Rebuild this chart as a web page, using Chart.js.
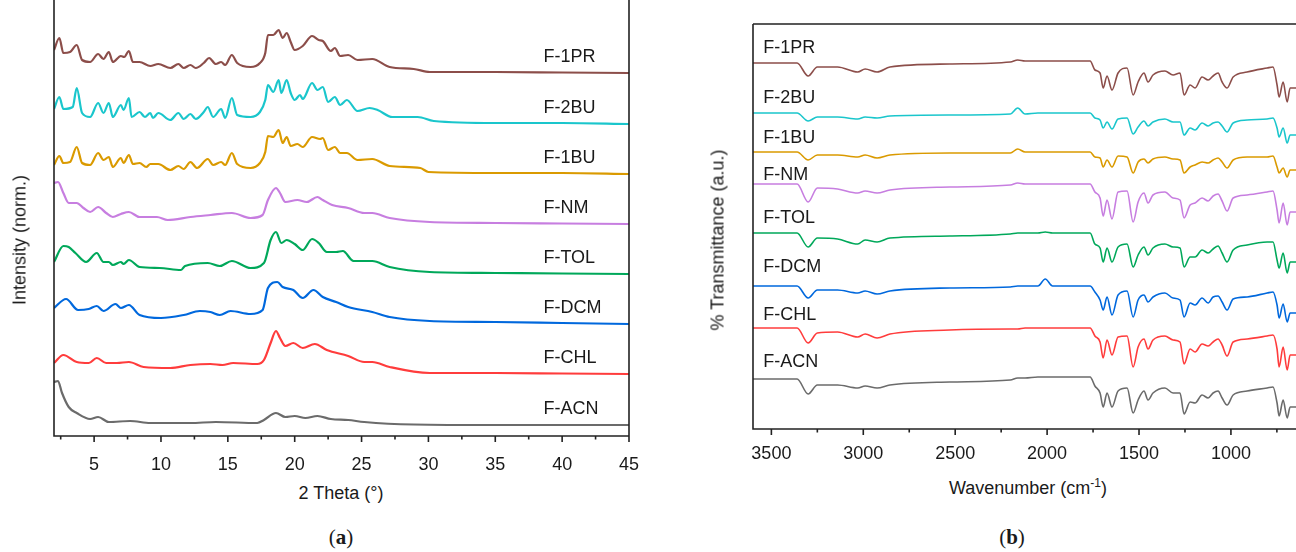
<!doctype html>
<html lang="en">
<head>
<meta charset="utf-8">
<title>XRD and FTIR of the F- samples</title>
<script src="https://cdn.jsdelivr.net/npm/chart.js"></script>
<style>
  body { margin: 0; background: #fff; font-family: "Liberation Sans", Arial, sans-serif; color: #1a1a1a; }
  #wrap { position: relative; width: 1296px; height: 552px; overflow: hidden; }
  canvas { position: absolute; top: 0; }
  .t { position: absolute; font-size: 18px; white-space: nowrap; transform: translate(-50%, -50%); }
  .t.rot { transform: translate(-50%, -50%) rotate(-90deg); }
  .t sup { font-size: 12px; }
  .cap { position: absolute; font-family: "Liberation Serif", serif; font-size: 21px; transform: translate(-50%, -50%); }
</style>
</head>
<body>
<div id="wrap">
  <canvas id="xrd" width="660" height="476" style="left:0"></canvas>
  <canvas id="ftir" width="596" height="470" style="left:700px"></canvas>

  <div class="t rot" style="left:20px;top:240px">Intensity (norm.)</div>
  <div class="t" style="left:341px;top:493px">2 Theta (°)</div>
  <div class="cap" style="left:341px;top:537px">(<b>a</b>)</div>

  <div class="t rot" style="left:718px;top:240px">% Transmittance (a.u.)</div>
  <div class="t" style="left:1028px;top:487px">Wavenumber (cm<sup>-1</sup>)</div>
  <div class="cap" style="left:1012px;top:537px">(<b>b</b>)</div>
</div>

<script>
// noms des echantillons, du haut vers le bas
const samples = ['F-1PR', 'F-2BU', 'F-1BU', 'F-NM', 'F-TOL', 'F-DCM', 'F-CHL', 'F-ACN'];
const colors = ['#8c4e4a', '#1ac6cc', '#da9a00', '#c77ee0', '#00a85a', '#0068dd', '#ff3c3c', '#6b6b6b'];

// ---- (a) XRD : [2 theta, intensite au-dessus de la ligne de base]
const xrd1PR = [[2.0,23],[2.4,35],[2.7,20],[3.2,21],[3.7,28],[4.1,13],[4.7,11],[5.3,19],[5.7,14],[6.1,21],[6.4,11],[7.0,17],[7.25,16],[7.6,22],[7.9,11],[8.4,11],[9.2,7],[9.8,9],[10.7,5],[11.3,9],[11.7,5],[12.2,8],[12.6,5],[13.2,10],[13.6,15],[14.1,9],[14.5,11],[14.8,8],[15.3,18],[15.7,10],[16.7,6],[17.4,10],[17.8,20],[18.0,38],[18.4,38],[18.8,43],[19.1,35],[19.4,40],[19.7,31],[20.0,23],[20.6,27],[21.3,37],[21.8,33],[22.1,32],[22.7,22],[23.0,25],[23.4,17],[24.0,18],[24.7,13],[25.8,14],[27.1,6],[28.9,4],[30.1,1],[35,1],[40,0.5],[45,0]];
const xrd2BU = [[2.0,15],[2.4,27],[2.7,15],[3.4,17],[3.7,36],[4.1,11],[4.7,7],[5.3,21],[5.7,11],[6.1,21],[6.4,7],[7.0,19],[7.2,14],[7.6,26],[7.8,7],[8.4,12],[8.8,7],[9.2,11],[9.4,6],[9.8,11],[10.7,4],[11.3,11],[11.7,5],[12.2,10],[12.6,5],[13.2,12],[13.5,17],[13.9,7],[14.5,15],[14.8,6],[15.3,26],[15.7,9],[16.7,7],[17.4,12],[17.8,24],[18.0,39],[18.4,32],[18.8,44],[19.0,31],[19.4,44],[19.7,31],[20.0,24],[20.4,29],[20.6,25],[21.3,41],[21.7,34],[22.1,37],[22.5,22],[23.0,27],[23.4,19],[23.9,24],[24.7,13],[25.6,16],[26.2,14],[27.3,7],[29.2,7],[30.4,3],[35,1],[40,1],[45,0]];
const xrd1BU = [[2.0,9],[2.4,18],[2.7,11],[3.2,12],[3.7,27],[4.1,11],[4.7,9],[5.3,21],[5.7,14],[6.1,17],[6.4,7],[7.0,16],[7.2,11],[7.6,19],[7.9,10],[8.4,11],[8.9,7],[9.2,10],[9.8,10],[10.7,4],[11.3,8],[11.7,5],[12.2,12],[12.7,6],[13.5,15],[13.9,9],[14.5,12],[14.8,9],[15.3,21],[15.7,10],[16.7,6],[17.4,11],[17.8,22],[18.0,38],[18.4,37],[18.8,44],[19.1,31],[19.4,37],[19.7,28],[20.2,30],[20.6,27],[21.3,37],[21.9,35],[22.1,36],[22.5,24],[23.0,27],[23.4,21],[23.9,21],[24.7,14],[25.8,15],[27.1,8],[29.4,6],[30.0,2],[35,1],[40,1],[45,0]];
const xrdNM = [[2.0,41],[2.3,42],[2.7,31],[3.1,21],[3.7,21],[4.2,16],[4.7,12],[5.3,17],[5.9,11],[6.4,7],[7.0,10],[7.6,12],[8.4,7],[9.7,7],[10.5,4],[12.2,7],[13.7,9],[15.3,11],[16.7,6],[17.6,9],[18.0,24],[18.6,36],[18.9,31],[19.3,22],[20.2,24],[20.9,22],[21.7,27],[22.1,24],[22.8,19],[24.0,16],[25.2,11],[25.8,11],[27.1,6],[30.1,2],[35,1],[40,0.5],[45,0]];
const xrdTOL = [[2.0,12],[2.7,28],[3.1,27],[3.6,21],[4.4,12],[5.2,21],[5.7,12],[6.1,12],[6.4,9],[7.0,12],[7.2,10],[7.6,14],[8.4,7],[9.9,6],[11.5,4],[11.8,8],[13.5,11],[14.4,8],[15.3,13],[16.7,6],[17.7,11],[18.2,34],[18.6,42],[19.0,31],[19.4,34],[20.0,30],[20.6,24],[21.3,35],[21.8,31],[22.4,22],[23.1,22],[23.6,23],[24.4,13],[25.8,13],[27.1,7],[30.1,2],[35,1],[40,0.5],[45,0]];
const xrdDCM = [[2.0,16],[2.9,25],[3.8,14],[4.6,15],[5.2,18],[5.7,13],[6.6,20],[7.0,16],[7.6,19],[8.4,9],[10.0,6],[11.7,9],[12.9,13],[13.7,12],[14.4,9],[15.2,13],[16.7,10],[17.6,14],[18.0,36],[18.7,42],[19.1,37],[19.9,34],[20.6,26],[21.4,34],[22.1,27],[23.1,22],[24.0,17],[25.8,12],[27.1,7],[30.1,3],[35,2],[40,1],[45,0]];
const xrdCHL = [[2.0,11],[2.7,19],[3.7,12],[4.6,11],[5.2,16],[5.9,11],[6.7,11],[7.6,12],[8.7,7],[10.7,6],[12.2,9],[13.7,10],[14.6,9],[15.4,11],[17.2,10],[17.7,14],[18.2,31],[18.6,43],[18.9,36],[19.3,28],[19.9,31],[20.6,26],[21.5,30],[22.4,24],[24.0,18],[25.2,12],[25.8,12],[27.1,7],[30.1,1],[35,1],[40,0.5],[45,0]];
const xrdACN = [[2.0,43],[2.3,44],[2.6,32],[3.1,18],[3.7,12],[4.7,6],[5.3,8],[6.1,3],[7.7,4],[9.2,2],[12.2,2],[14.1,3],[17.2,2],[17.7,5],[18.6,12],[19.3,8],[20.0,9],[20.8,7],[21.7,9],[22.7,6],[24.0,5],[25.2,3],[28.9,0.5],[35,0],[40,0],[45,0]];
const xrdSeries = [xrd1PR, xrd2BU, xrd1BU, xrdNM, xrdTOL, xrdDCM, xrdCHL, xrdACN];
const xrdOffsets = [363, 312, 262, 212, 162, 112, 62, 11];
const xrdTicks = [5, 10, 15, 20, 25, 30, 35, 40, 45];
const xrdMinorTicks = [2.5, 7.5, 12.5, 17.5, 22.5, 27.5, 32.5, 37.5, 42.5];

// ---- (b) FTIR : nombre d'onde commun + profondeur des bandes (vers le bas)
const wavenumbers = [3600,3360,3300,3250,3140,3030,2990,2925,2855,2530,2200,2160,2120,2050,2010,1970,1766,1740,1712,1695,1674,1647,1614,1565,1532,1505,1473,1451,1424,1359,1315,1277,1255,1222,1195,1157,1124,1097,1070,1048,1021,988,912,803,771,749,738,716,694,678,646];
const ir1PR = [2,2,15,6,6,11,8,11,6,3,1,-1,0,0,0,0,0,9,12,27,15,29,12,7,34,21,12,21,14,10,14,12,34,24,27,16,19,15,12,21,27,16,11,7,6,24,36,21,41,27,27];
const ir2BU = [0,0,8,4,4,6,4,5,3,2,1,-5,1,0,0,0,0,5,7,15,9,16,6,5,21,14,8,13,9,6,9,9,22,15,17,10,13,10,9,13,19,10,7,6,5,15,24,15,30,22,22];
const ir1BU = [0,0,8,3,3,5,3,6,3,1,1,-3,0,0,0,0,0,5,6,15,8,15,4,5,21,10,7,11,7,5,7,8,21,15,13,10,11,8,6,10,16,8,5,5,4,15,21,16,25,18,18];
const irNM  = [0,0,18,4,5,9,7,9,6,3,1,-1,0,0,0,0,0,8,14,32,16,35,8,7,38,18,9,19,11,8,14,16,34,21,19,14,17,12,10,17,27,14,11,8,7,26,39,19,41,28,28];
const irTOL = [0,0,14,5,6,11,7,9,5,3,1,0,0,0,-1,0,0,11,15,29,15,29,14,11,34,22,14,22,15,11,14,15,34,24,24,17,20,16,13,20,29,17,12,9,9,27,35,20,40,29,29];
const irDCM = [0,0,12,4,4,7,5,8,5,2,1,0,0,0,-7,0,0,6,14,24,11,29,9,5,31,14,9,16,11,7,12,14,31,17,19,12,17,11,10,16,24,13,11,7,6,19,32,18,36,27,27];
const irCHL = [0,0,15,5,4,9,6,10,6,2,1,1,0,0,0,0,0,8,14,30,12,27,9,8,39,19,11,21,12,8,12,14,36,21,24,16,18,14,11,17,28,14,11,8,7,21,39,19,42,27,27];
const irACN = [0,0,15,6,6,9,7,9,6,3,1,-1,-1,-2,-2,-2,-2,7,14,28,14,28,12,9,34,21,12,21,14,9,14,14,35,23,24,16,19,14,12,19,26,16,12,9,8,24,37,21,39,28,28];
const irSeries = [ir1PR, ir2BU, ir1BU, irNM, irTOL, irDCM, irCHL, irACN];
const irBaselines = [368, 316, 277, 245, 196, 143, 101, 50];
const irTicks = [3500, 3000, 2500, 2000, 1500, 1000];
const irMinorTicks = [3250, 2750, 2250, 1750, 1250, 750];

const tickFont = { family: 'Liberation Sans', size: 18 };

// cadre + graduations dessines a la main (majeures longues, mineures courtes)
const framePlugin = {
  id: 'frame',
  afterDraw(chart, args, opts) {
    const { ctx, chartArea: a } = chart;
    const xs = chart.scales.x;
    ctx.save();
    ctx.strokeStyle = '#222';
    ctx.lineWidth = 1.6;
    ctx.beginPath();
    if (opts.left) { ctx.moveTo(a.left, opts.topY); ctx.lineTo(a.left, a.bottom); }
    if (opts.right) { ctx.moveTo(a.right, opts.topY); ctx.lineTo(a.right, a.bottom); }
    if (opts.top) { ctx.moveTo(a.left, a.top); ctx.lineTo(a.right, a.top); }
    ctx.moveTo(a.left - 0.8, a.bottom); ctx.lineTo(a.right + 0.8, a.bottom);
    xs.ticks.forEach(t => {
      const px = xs.getPixelForValue(t.value);
      const len = opts.majors.includes(t.value) ? 6 : 3.5;
      ctx.moveTo(px, a.bottom); ctx.lineTo(px, a.bottom + len);
    });
    ctx.stroke();
    ctx.restore();
  }
};

// noms des echantillons a cote des courbes
const namePlugin = {
  id: 'names',
  afterDatasetsDraw(chart, args, opts) {
    const { ctx } = chart;
    ctx.save();
    ctx.font = '18px "Liberation Sans", Arial';
    ctx.fillStyle = '#1a1a1a';
    ctx.textAlign = 'left';
    ctx.textBaseline = 'middle';
    samples.forEach((s, i) => {
      ctx.fillText(s, chart.scales.x.getPixelForValue(opts.x), chart.scales.y.getPixelForValue(opts.y[i]));
    });
    ctx.restore();
  }
};

// liste de graduations imposee (majeures + mineures)
function fixedTicks(majors, minors, desc) {
  const vals = majors.concat(minors).sort((p, q) => desc ? q - p : p - q);
  return s => { s.ticks = vals.map(v => ({ value: v })); };
}

new Chart(document.getElementById('xrd'), {
  type: 'line',
  data: {
    datasets: samples.map((s, i) => ({
      label: s,
      data: xrdSeries[i].map(p => ({ x: p[0], y: xrdOffsets[i] + p[1] })),
      borderColor: colors[i],
      borderWidth: 2.2,
      pointRadius: 0,
      cubicInterpolationMode: 'monotone'
    }))
  },
  options: {
    responsive: false,
    animation: false,
    devicePixelRatio: 1,
    layout: { padding: { left: 54, right: 31, top: 10, bottom: 0 } },
    plugins: {
      legend: { display: false },
      tooltip: { enabled: false },
      frame: { left: true, right: true, top: false, topY: 0, majors: xrdTicks },
      names: { x: 38.6, y: xrdOffsets.map(o => o + 16) }
    },
    scales: {
      x: {
        type: 'linear', min: 2, max: 45,
        grid: { display: false }, border: { display: false },
        afterBuildTicks: fixedTicks(xrdTicks, xrdMinorTicks, false),
        afterFit: s => { s.height = 40; },
        ticks: {
          autoSkip: false, maxRotation: 0, padding: 10,
          font: tickFont, color: '#1a1a1a',
          callback: v => xrdTicks.includes(v) ? String(v) : ''
        }
      },
      y: { display: false, min: 0, max: 426 }
    }
  },
  plugins: [framePlugin, namePlugin]
});

new Chart(document.getElementById('ftir'), {
  type: 'line',
  data: {
    datasets: samples.map((s, i) => ({
      label: s,
      data: wavenumbers.map((w, j) => ({ x: w, y: irBaselines[i] - irSeries[i][j] })),
      borderColor: colors[i],
      borderWidth: 1.6,
      pointRadius: 0,
      cubicInterpolationMode: 'monotone'
    }))
  },
  options: {
    responsive: false,
    animation: false,
    devicePixelRatio: 1,
    layout: { padding: { left: 53, right: 0, top: 24, bottom: 0 } },
    plugins: {
      legend: { display: false },
      tooltip: { enabled: false },
      frame: { left: true, right: false, top: true, topY: 24, majors: irTicks },
      names: { x: 3544, y: [381, 331, 291, 254, 211, 162, 114, 67] }
    },
    scales: {
      x: {
        type: 'linear', min: 646, max: 3600, reverse: true,
        grid: { display: false }, border: { display: false },
        afterBuildTicks: fixedTicks(irTicks, irMinorTicks, true),
        afterFit: s => { s.height = 41; },
        ticks: {
          autoSkip: false, maxRotation: 0, padding: 6,
          font: tickFont, color: '#1a1a1a',
          callback: v => irTicks.includes(v) ? String(v) : ''
        }
      },
      y: { display: false, min: 0, max: 405 }
    }
  },
  plugins: [framePlugin, namePlugin]
});
</script>
</body>
</html>
